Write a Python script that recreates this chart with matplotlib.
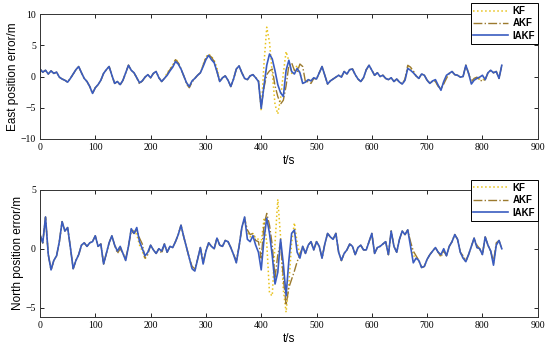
import numpy as np
import matplotlib.pyplot as plt

dt = 5  # sample spacing [s]

# East position error, sampled every 5 s
east_iakf = [1.2, 0.7, 1.0, 0.4, 0.9, 0.5, 0.7, -0.1, -0.4, -0.6,
             -0.9, -0.3, 0.4, 1.1, 1.6, 0.6, -0.3, -0.8, -1.6, -2.7,
             -1.8, -1.3, -0.6, 0.5, 1.1, 1.6, 0.2, -1.1, -0.8, -1.3,
             -0.6, 0.6, 1.8, 1.0, 0.6, -0.2, -1.0, -0.7, -0.1, 0.3,
             -0.2, 0.5, 0.8, -0.2, -0.8, -0.3, 0.2, 0.9, 1.5, 2.4,
             2.0, 1.2, 0.1, -1.0, -1.6, -0.7, -0.3, 0.2, 0.6, 1.6,
             2.7, 3.4, 2.7, 2.2, 0.8, -0.8, -0.2, 0.1, -0.6, -1.6,
             -0.4, 1.2, 1.7, 0.6, -0.3, -0.5, 0.1, 0.3, -0.2, -0.8,
             -5.1, -1.5, 1.8, 3.6, 2.8, 0.9, -1.3, -2.6, -3.2, 1.0,
             2.6, 0.8, 0.4, 1.3, 0.6, -1.1, -0.9, -0.5, -0.7, -0.2,
             -0.4, 0.6, 1.6, 0.2, -1.2, -0.7, -0.4, -0.1, 0.2, -0.1,
             0.8, 0.4, 1.1, 1.2, 0.3, -0.4, -0.8, -0.2, 1.1, 1.8,
             1.0, 0.2, 0.6, 0.0, 0.2, -0.3, -0.5, -0.2, -0.8, -0.4,
             -0.9, -1.2, -0.6, 1.3, 1.0, 0.6, 0.1, -0.3, 0.4, 0.2,
             -0.6, -1.1, -0.7, -0.5, -1.4, -2.2, -0.8, 0.2, 0.5, 0.8,
             0.3, 0.2, -0.1, 0.0, 1.8, 0.5, -1.2, -0.6, -0.3, -0.1,
             0.2, -0.5, 0.6, 1.0, 0.6, 0.8, -0.3, 1.8]
east_akf = [1.2, 0.7, 1.0, 0.4, 0.9, 0.5, 0.7, -0.1, -0.4, -0.6,
            -0.9, -0.3, 0.4, 1.1, 1.6, 0.6, -0.3, -0.8, -1.6, -2.7,
            -1.8, -1.3, -0.6, 0.5, 1.1, 1.6, 0.2, -1.1, -0.8, -1.4,
            -0.6, 0.6, 1.8, 1.0, 0.6, -0.2, -1.2, -0.7, -0.1, 0.3,
            -0.2, 0.5, 0.8, -0.2, -0.8, -0.3, 0.4, 1.1, 1.7, 2.7,
            2.2, 1.2, 0.1, -1.2, -1.8, -0.9, -0.3, 0.2, 0.6, 1.8,
            3.0, 3.5, 3.1, 2.4, 0.8, -0.8, -0.2, 0.1, -0.6, -1.6,
            -0.4, 1.2, 1.7, 0.6, -0.3, -0.5, 0.1, 0.3, -0.2, -0.7,
            -4.8, -1.8, 0.3, 0.9, 1.2, -1.5, -3.2, -4.4, -3.8, -1.5,
            1.8, 2.2, 1.0, 0.7, 2.0, 1.6, -0.9, -0.8, -1.1, -0.3,
            -0.4, 0.6, 1.6, 0.2, -1.2, -0.7, -0.4, -0.1, 0.2, -0.1,
            0.8, 0.4, 1.1, 1.2, 0.3, -0.4, -0.8, -0.2, 1.1, 1.8,
            1.0, 0.2, 0.6, 0.0, 0.2, -0.3, -0.5, -0.2, -0.8, -0.4,
            -0.9, -1.2, -0.4, 1.8, 1.5, 0.9, 0.1, -0.3, 0.4, 0.2,
            -0.6, -1.1, -0.7, -0.8, -1.6, -1.9, -1.2, -0.3, 0.5, 0.8,
            0.3, 0.2, -0.1, 0.0, 1.8, 0.5, -0.8, -0.3, -0.1, -0.6,
            -0.7, -0.5, 0.6, 1.0, 0.6, 0.8, -0.3, 1.8]
east_kf = [1.2, 0.7, 1.0, 0.4, 0.9, 0.5, 0.7, -0.1, -0.4, -0.6,
           -0.9, -0.3, 0.4, 1.1, 1.6, 0.6, -0.3, -0.8, -1.6, -2.7,
           -1.8, -1.3, -0.6, 0.5, 1.1, 1.6, 0.2, -1.1, -0.8, -1.3,
           -0.6, 0.6, 1.8, 1.0, 0.6, -0.2, -1.0, -0.7, -0.1, 0.3,
           -0.2, 0.5, 0.8, -0.2, -0.8, -0.3, 0.6, 1.2, 1.8, 2.8,
           2.3, 1.2, 0.1, -1.0, -1.6, -0.7, -0.3, 0.2, 0.6, 1.9,
           3.1, 3.6, 3.2, 2.6, 1.4, -0.8, -0.2, 0.1, -0.6, -1.6,
           -0.4, 1.2, 1.7, 0.6, -0.3, -0.5, 0.1, 0.3, -0.2, -0.5,
           -5.5, 2.0, 7.9, 5.5, 0.5, -4.5, -6.0, -3.5, 0.5, 4.0,
           2.5, 0.5, 1.0, 1.8, 0.6, -1.1, -0.9, -0.5, -0.7, -0.2,
           -0.4, 0.6, 1.6, 0.2, -1.2, -0.7, -0.4, -0.1, 0.2, -0.1,
           0.8, 0.4, 1.1, 1.2, 0.3, -0.4, -0.8, -0.2, 1.1, 1.8,
           1.0, 0.2, 0.6, 0.0, 0.2, -0.3, -0.5, -0.2, -0.8, -0.4,
           -0.9, -1.2, -0.5, 1.6, 1.3, 0.8, 0.1, -0.3, 0.4, 0.2,
           -0.6, -1.1, -0.7, -0.7, -1.5, -2.0, -1.0, 0.0, 0.5, 0.8,
           0.3, 0.2, -0.1, 0.0, 1.8, 0.5, -1.0, -0.4, -0.2, -0.4,
           -0.5, -0.5, 0.6, 1.0, 0.6, 0.8, -0.3, 1.8]

# North position error, sampled every 5 s
north_iakf = [1.2, 0.5, 2.7, -0.5, -1.8, -1.0, -0.6, 0.6, 2.3, 1.5,
              1.8, 0.1, -1.7, -1.0, -0.5, 0.3, 0.5, 0.2, 0.5, 0.6,
              1.1, 0.2, 0.4, -1.3, -0.4, 0.5, 1.1, 0.3, -0.2, 0.2,
              -0.4, -1.0, 0.2, 1.7, 1.3, 1.8, 0.6, 0.0, -0.6, -0.3,
              0.3, -0.1, -0.4, 0.0, -0.2, 0.4, -0.3, 0.2, 0.1, 0.6,
              1.2, 2.0, 1.0, 0.1, -0.8, -1.7, -1.9, -0.9, 0.1, -1.3,
              -0.2, 0.5, 0.2, 0.0, 0.9, 0.3, 0.2, 0.7, 0.6, 0.1,
              -0.5, -1.2, 0.2, 1.8, 2.7, 0.8, 0.6, 1.1, 0.3, -0.3,
              -1.8, 0.8, 2.6, 1.3, -0.6, -3.0, -2.0, 0.8, -1.3, -4.0,
              -1.0, 1.3, 1.6, -0.3, -0.8, 0.2, -0.4, 0.3, 0.6, -0.1,
              0.6, 0.2, -0.8, 0.4, 1.3, 1.0, 0.8, 1.3, -0.3, -1.0,
              -0.4, -0.1, 0.4, 0.2, -0.5, 0.1, 0.3, -0.1, -0.1, 0.6,
              1.3, -0.4, 0.1, 0.2, 0.4, 0.6, -0.5, 1.5, 0.2, -0.3,
              0.8, 1.5, 1.2, 1.6, 0.2, -1.2, -0.8, -1.0, -1.6, -1.5,
              -0.9, -0.5, -0.2, 0.1, -0.3, -0.5, 0.0, -0.6, 0.2, 0.6,
              1.2, 0.8, -0.3, -0.8, -1.1, -0.5, 0.2, 0.9, 0.1, 0.0,
              -0.5, 1.0, 0.3, -0.2, -1.4, 0.3, 0.7, 0.0]
north_akf = [1.2, 0.5, 2.7, -0.5, -1.8, -1.0, -0.6, 0.6, 2.3, 1.5,
             1.8, 0.1, -1.7, -1.0, -0.5, 0.3, 0.5, 0.2, 0.5, 0.6,
             1.1, 0.2, 0.4, -1.3, -0.4, 0.5, 1.1, 0.3, -0.4, 0.0,
             -0.4, -0.8, 0.2, 1.5, 1.3, 1.6, 0.9, 0.4, -0.8, -0.5,
             0.3, -0.1, -0.4, 0.0, -0.4, 0.4, -0.3, 0.2, 0.1, 0.6,
             1.2, 2.0, 1.0, 0.1, -0.8, -1.5, -1.7, -0.9, 0.1, -1.1,
             -0.2, 0.5, 0.2, 0.0, 0.9, 0.3, 0.2, 0.7, 0.6, 0.1,
             -0.5, -1.0, 0.2, 1.8, 2.5, 1.6, 1.2, 1.3, 0.7, 0.6,
             -0.8, 2.0, 3.0, 2.0, 0.3, -2.5, -0.5, 0.5, -2.5, -4.8,
             -3.3, -2.6, -1.9, -1.1, -0.5, 0.2, -0.4, 0.3, 0.6, -0.1,
             0.6, 0.2, -0.8, 0.4, 1.3, 1.0, 0.8, 1.3, -0.3, -1.0,
             -0.4, -0.1, 0.4, 0.2, -0.5, 0.1, 0.3, -0.1, -0.1, 0.6,
             1.3, -0.4, 0.1, 0.2, 0.4, 0.6, -0.5, 1.5, 0.2, -0.3,
             0.8, 1.5, 1.2, 1.6, 0.6, -0.2, -0.6, -1.0, -1.6, -1.5,
             -0.9, -0.5, -0.2, 0.1, -0.3, -0.7, -0.2, -0.6, 0.2, 0.6,
             1.2, 0.8, -0.3, -0.6, -1.0, -0.5, 0.2, 0.9, 0.3, 0.0,
             -0.5, 1.0, 0.3, -0.2, -1.1, 0.5, 0.7, 0.0]
north_kf = [1.2, 0.5, 2.7, -0.5, -1.8, -1.0, -0.6, 0.6, 2.3, 1.5,
            1.8, 0.1, -1.7, -1.0, -0.5, 0.3, 0.5, 0.2, 0.5, 0.6,
            1.1, 0.2, 0.4, -1.3, -0.4, 0.5, 1.1, 0.3, -0.2, 0.2,
            -0.4, -1.0, 0.2, 1.7, 1.5, 1.2, 0.3, -0.2, -0.9, -0.3,
            0.3, -0.1, -0.4, 0.0, -0.2, 0.4, -0.3, 0.2, 0.1, 0.6,
            1.2, 2.0, 1.0, 0.1, -0.8, -1.7, -1.9, -0.9, 0.1, -1.3,
            -0.2, 0.5, 0.2, 0.0, 0.9, 0.3, 0.2, 0.7, 0.6, 0.1,
            -0.5, -1.2, 0.2, 1.8, 2.7, 1.4, 1.0, 1.3, 0.9, 0.8,
            0.5, 2.5, 0.5, -3.8, -4.0, 0.5, 4.2, 1.0, -3.5, -5.4,
            -3.0, 0.5, 2.2, 0.5, -0.5, 0.2, -0.4, 0.3, 0.6, -0.1,
            0.6, 0.2, -0.8, 0.4, 1.3, 1.0, 0.8, 1.3, -0.3, -1.0,
            -0.4, -0.1, 0.4, 0.2, -0.5, 0.1, 0.3, -0.1, -0.1, 0.6,
            1.3, -0.4, 0.1, 0.2, 0.4, 0.6, -0.5, 1.5, 0.2, -0.3,
            0.8, 1.5, 1.2, 1.6, 0.5, -0.6, -0.7, -1.0, -1.6, -1.5,
            -0.9, -0.5, -0.2, 0.1, -0.3, -0.6, -0.1, -0.6, 0.2, 0.6,
            1.2, 0.8, -0.3, -0.8, -1.1, -0.5, 0.2, 0.9, 0.1, 0.0,
            -0.5, 1.0, 0.3, -0.2, -1.3, 0.4, 0.7, 0.0]

c_kf = '#e8c21a'
c_akf = '#9b7a2e'
c_iakf = '#3a5cc0'

serif = 'Liberation Serif'
sans = 'Liberation Sans'

fig = plt.figure(figsize=(5.5, 3.51), dpi=100)
ax1 = fig.add_axes([0.0727, 0.604, 0.905, 0.356])
ax2 = fig.add_axes([0.0727, 0.097, 0.905, 0.362])


def draw(ax, kf, akf, iakf, ylabel, ylim, yticks, leg_top):
    t = np.arange(len(iakf)) * dt
    ax.plot(np.arange(len(kf)) * dt, kf, ':', color=c_kf, lw=1.1, label='KF')
    ax.plot(np.arange(len(akf)) * dt, akf, '-.', color=c_akf, lw=1.0, label='AKF')
    ax.plot(t, iakf, '-', color=c_iakf, lw=1.2, label='IAKF')
    ax.set_xlim(0, 900)
    ax.set_ylim(*ylim)
    ax.set_xticks(np.arange(0, 901, 100))
    ax.set_yticks(yticks)
    ax.tick_params(direction='in', top=True, right=True, length=3,
                   width=0.6, labelsize=7, pad=3)
    for lab in ax.get_xticklabels() + ax.get_yticklabels():
        lab.set_family(serif)
    for sp in ax.spines.values():
        sp.set_linewidth(0.7)
        sp.set_color('#333333')
    ax.set_xlabel('t/s', family=sans, fontsize=8.5, labelpad=2)
    ax.set_ylabel(ylabel, family=sans, fontsize=8.5, labelpad=1)
    leg = ax.legend(loc='upper right', bbox_to_anchor=(1.0, leg_top),
                    borderaxespad=0, fancybox=False, framealpha=1,
                    edgecolor='black', handlelength=3.6, handletextpad=0.4,
                    labelspacing=0.25, borderpad=0.3,
                    prop={'family': sans, 'size': 7, 'weight': 'bold'})
    leg.get_frame().set_linewidth(0.7)


draw(ax1, east_kf, east_akf, east_iakf, 'East position error/m',
     (-10, 10), [-10, -5, 0, 5, 10], 1.088)
draw(ax2, north_kf, north_akf, north_iakf, 'North position error/m',
     (-5.8, 5), [-5, 0, 5], 1.078)

fig.savefig('out.png', dpi=100)
